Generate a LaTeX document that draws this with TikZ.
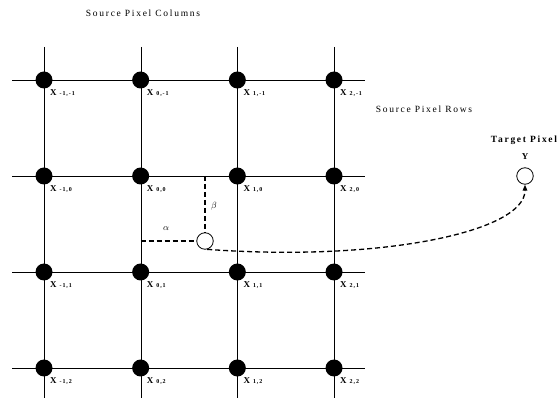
\documentclass[tikz,border=0pt]{standalone}
\usepackage{fontspec}
\setmainfont{Liberation Serif}
\usetikzlibrary{arrows.meta}
\tikzset{
  srcpix/.style={circle,fill=black,inner sep=0pt,minimum size=17pt},
  tgtpix/.style={circle,draw=black,fill=white,inner sep=0pt,minimum size=16.5pt,line width=0.8pt},
  pixlabel/.style={anchor=north west,inner sep=0pt,font=\bfseries\fontsize{9}{9}\selectfont},
  caption/.style={inner sep=0pt,font=\fontsize{9.5}{10}\selectfont\addfontfeature{LetterSpace=18}},
  offset/.style={dashed,line width=1.3pt,dash pattern=on 5pt off 3pt},
}
\newcommand{\pixsub}[1]{{\fontsize{6}{6}\selectfont\addfontfeature{LetterSpace=15}#1}}

\begin{document}
\begin{tikzpicture}[x=1pt,y=-1pt]
  \useasboundingbox (0,0) rectangle (560,403);
  % grid lines
  \foreach \x in {44,141,237,334}
    \draw[line width=0.8pt] (\x,47) -- (\x,398);
  \foreach \y in {80,176,272,368}
    \draw[line width=0.8pt] (12,\y) -- (365,\y);
  % source pixels
  \foreach \i/\ii in {0/-1,1/0,2/1,3/2}
    \foreach \j/\jj in {0/-1,1/0,2/1,3/2} {
      \pgfmathsetmacro{\px}{44+96.67*\i}
      \pgfmathsetmacro{\py}{80+96*\j}
      \node[srcpix] (s\i\j) at (\px,\py) {};
      \node[pixlabel] (l\i\j) at ([xshift=6pt,yshift=-9pt]s\i\j) {X\hspace{3pt}\pixsub{\ii,\jj}};
    }
  % interpolated pixel
  \node[tgtpix] (alpha) at (205,241) {};
  \draw[offset] (s11 |- alpha) -- (alpha.west);
  \draw[offset] (alpha |- s11) -- (alpha.north);
  \node[inner sep=0pt] (alab) at (166,229) {\small$\alpha$};
  \node[inner sep=0pt] (blab) at (214,206) {\small$\beta$};
  % target pixel
  \node[tgtpix] (tgt) at (525,176) {};
  \node[caption,font=\bfseries\fontsize{9.5}{10}\selectfont\addfontfeature{LetterSpace=18}] (ttl) at (524,140) {Target Pixel};
  \node[inner sep=0pt,font=\bfseries\fontsize{9}{9}\selectfont] (ylab) at (525,157) {Y};
  \draw[offset,-{Triangle[length=6pt,width=4.5pt]}] (alpha.-75) .. controls (380,262) and (525,232) .. (tgt.south);
  % captions
  \node[caption] (cols) at (143,13) {Source Pixel Columns};
  \node[caption] (rows) at (424,109) {Source Pixel Rows};
\end{tikzpicture}
\end{document}
